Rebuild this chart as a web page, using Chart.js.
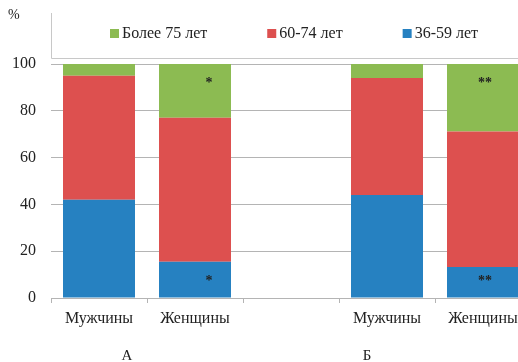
<!DOCTYPE html>
<html>
<head>
<meta charset="utf-8">
<script src="https://cdn.jsdelivr.net/npm/chart.js@4"></script>
<style>
  html, body { margin: 0; padding: 0; background: #fff; overflow: hidden; }
  #wrap { width: 535px; height: 362px; }
</style>
</head>
<body>
<div id="wrap"><canvas id="chart" width="535" height="362"></canvas></div>
<script>
  // categories along the x axis (third one is an empty gap between groups)
  var categories = ['Мужчины', 'Женщины', '', 'Мужчины', 'Женщины'];
  var groupLabels = ['А', 'Б'];

  // percent shares, stacked bottom to top
  var age36to59 = [42, 15.5, null, 44, 13.2];
  var age60to74 = [53, 61.5, null, 50, 58];
  var age75plus = [5, 23, null, 6, 28.8];

  // significance marks drawn inside the top and bottom segments
  var marks = ['', '*', '', '', '**'];

  var yTicks = [0, 20, 40, 60, 80, 100];

  var GREEN = '#8cbb52';
  var RED = '#dd504f';
  var BLUE = '#2681c1';
  var GRID = '#b4b4b4';
  var FONT = '"Liberation Serif", "Times New Roman", serif';

  // legend, "%" label, group letters and asterisks
  var extrasPlugin = {
    id: 'extras',
    afterDraw: function (chart) {
      var ctx = chart.ctx;
      var area = chart.chartArea;
      var xs = chart.scales.x;
      var ys = chart.scales.y;
      ctx.save();

      // legend frame (left and bottom edges)
      ctx.strokeStyle = '#c8c8c8';
      ctx.lineWidth = 1;
      ctx.beginPath();
      ctx.moveTo(Math.round(area.left) + 0.5, 13);
      ctx.lineTo(Math.round(area.left) + 0.5, 58.5);
      ctx.lineTo(chart.width, 58.5);
      ctx.stroke();

      // legend items, reversed order
      ctx.font = '16px ' + FONT;
      ctx.textBaseline = 'middle';
      ctx.textAlign = 'left';
      var x = 110;
      var ds = chart.data.datasets.slice().reverse();
      ds.forEach(function (d) {
        ctx.fillStyle = d.backgroundColor;
        ctx.fillRect(x, 29, 9, 9);
        ctx.fillStyle = '#222';
        ctx.fillText(d.label, x + 12, 34);
        x += 12 + ctx.measureText(d.label).width + 60;
      });

      // "%" above the y axis
      ctx.font = '14px ' + FONT;
      ctx.fillStyle = '#222';
      ctx.fillText('%', 8, 15);

      // group letters under the axis
      ctx.font = '15px ' + FONT;
      ctx.textAlign = 'center';
      ctx.fillText(groupLabels[0], xs.getPixelForValue(0) + 28, 356);
      ctx.fillText(groupLabels[1], xs.getPixelForValue(3) - 20, 356);

      // asterisks
      ctx.font = 'bold 14px ' + FONT;
      marks.forEach(function (m, i) {
        if (!m) return;
        var cx = xs.getPixelForValue(i) + (m.length === 1 ? 14 : 2);
        ctx.fillText(m, cx, ys.getPixelForValue(93.5) + 4);
        ctx.fillText(m, cx, ys.getPixelForValue(9) + 4);
      });
      ctx.restore();
    }
  };

  new Chart(document.getElementById('chart'), {
    type: 'bar',
    data: {
      labels: categories,
      datasets: [
        { label: '36-59 лет', data: age36to59, backgroundColor: BLUE },
        { label: '60-74 лет', data: age60to74, backgroundColor: RED },
        { label: 'Более 75 лет', data: age75plus, backgroundColor: GREEN }
      ]
    },
    options: {
      responsive: false,
      animation: false,
      layout: { padding: { top: 64, left: 12, right: 4, bottom: 31 } },
      datasets: { bar: { barPercentage: 0.75, categoryPercentage: 1 } },
      plugins: {
        legend: { display: false },
        tooltip: { enabled: false }
      },
      scales: {
        x: {
          stacked: true,
          afterFit: function (scale) {
            scale.paddingLeft = 0;
            scale.paddingRight = 0;
            scale.height = 33;
          },
          grid: {
            offset: true,
            drawOnChartArea: false,
            color: GRID,
            tickLength: 5
          },
          border: { color: GRID },
          ticks: {
            color: '#222',
            font: { family: FONT, size: 16 },
            padding: 6,
            maxRotation: 0,
            autoSkip: false
          }
        },
        y: {
          stacked: true,
          min: 0,
          max: 100,
          afterFit: function (scale) {
            scale.width = 39;
          },
          afterBuildTicks: function (scale) {
            scale.ticks = yTicks.map(function (v) { return { value: v }; });
          },
          grid: { color: GRID, drawTicks: false },
          border: { display: false },
          ticks: {
            color: '#222',
            font: { family: FONT, size: 16 },
            padding: 15
          }
        }
      }
    },
    plugins: [extrasPlugin]
  });
</script>
</body>
</html>
